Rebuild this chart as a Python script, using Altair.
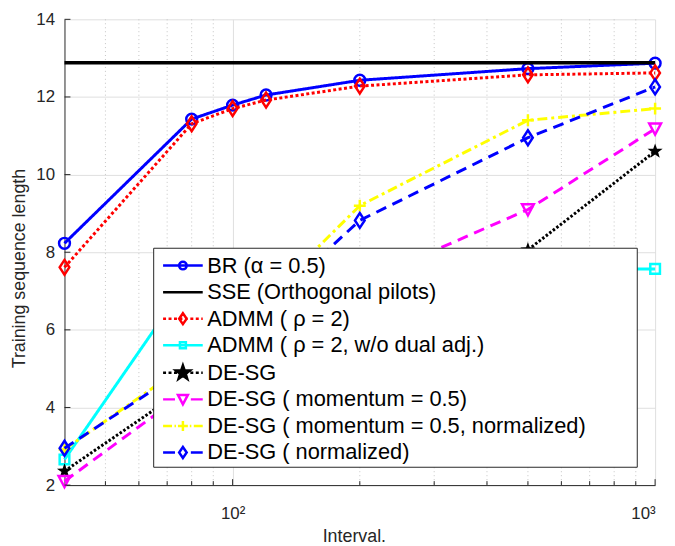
import altair as alt
import pandas as pd

# ---------------- data ----------------
intervals = [40, 80, 100, 120, 200, 500, 1000]
br = [8.23, 11.43, 11.79, 12.05, 12.43, 12.73, 12.87]
sse = [12.88, 12.88, 12.88, 12.88, 12.88, 12.88, 12.88]
admm = [7.61, 11.31, 11.70, 11.92, 12.28, 12.57, 12.62]
admm_nodual = [2.66, 7.40, 7.45, 7.50, 7.52, 7.55, 7.57]
desg = [2.36, 4.60, 5.20, 5.60, 6.60, 8.06, 10.60]
desg_mom = [2.10, 4.50, 5.30, 6.00, 7.20, 9.10, 11.18]
desg_mom_norm = [2.92, 5.20, 5.90, 6.80, 9.20, 11.40, 11.70]
desg_norm = [2.95, 5.10, 5.90, 6.60, 8.82, 10.95, 12.26]

series_names = [
    "BR (α = 0.5)",
    "SSE (Orthogonal pilots)",
    "ADMM ( ρ = 2)",
    "ADMM ( ρ = 2, w/o dual adj.)",
    "DE-SG",
    "DE-SG ( momentum = 0.5)",
    "DE-SG ( momentum = 0.5, normalized)",
    "DE-SG ( normalized)",
]
series_values = [br, sse, admm, admm_nodual, desg, desg_mom, desg_mom_norm, desg_norm]

y_ticks = [2, 4, 6, 8, 10, 12, 14]
x_major = [100, 1000]
x_minor = [50, 60, 70, 80, 90, 200, 300, 400, 500, 600, 700, 800, 900]

rows = []
for name, vals in zip(series_names, series_values):
    for xv, yv in zip(intervals, vals):
        rows.append({"series": name, "interval": xv, "value": yv})
df = pd.DataFrame(rows)

# ---------------- styles ----------------
STAR = ("M0,-1L0.235,-0.324L0.951,-0.309L0.380,0.124L0.588,0.809L0,0.4"
        "L-0.588,0.809L-0.380,0.124L-0.951,-0.309L-0.235,-0.324Z")
DIAMOND = "M0,-1L0.65,0L0,1L-0.65,0Z"
TRI_DOWN = "M-0.85,-0.75L0.85,-0.75L0,0.85Z"
PLUS = "M-1,0L1,0M0,-1L0,1"

# legend symbols (line + marker), unit = 10px at symbolSize 400
L_SOLID = "M-2,0L2,0"
L_DOT = ("M-2,0L-1.7,0M-1.45,0L-1.15,0M-0.9,0L-0.6,0M-0.35,0L-0.05,0"
         "M0.2,0L0.5,0M0.75,0L1.05,0M1.3,0L1.6,0M1.85,0L2,0")
L_DASH = "M-2,0L-0.8,0M0.8,0L2,0"
L_DASHDOT = "M-2,0L-1.1,0M-0.85,0L-0.7,0M0.7,0L0.85,0M1.1,0L2,0"
M_CIRC = "M0.38,0A0.38,0.38,0,1,1,-0.38,0A0.38,0.38,0,1,1,0.38,0Z"
M_DIAM = "M0,-0.55L0.38,0L0,0.55L-0.38,0Z"
M_SQ = "M-0.3,-0.3L0.3,-0.3L0.3,0.3L-0.3,0.3Z"
M_STAR = ("M0,-0.75L0.176,-0.243L0.713,-0.232L0.285,0.093L0.441,0.607L0,0.3"
          "L-0.441,0.607L-0.285,0.093L-0.713,-0.232L-0.176,-0.243Z")
M_TRI = "M-0.5,-0.45L0.5,-0.45L0,0.5Z"
M_PLUS = "M-0.5,0L0.5,0M0,-0.5L0,0.5"

styles = {
    series_names[0]: dict(color="#0000ff", dash=[1, 0], width=3, shape="circle", size=120, filled=False,
                          leg=L_SOLID + M_CIRC, fill="transparent"),
    series_names[1]: dict(color="#000000", dash=[1, 0], width=3.5, shape=None, size=0, filled=False,
                          leg=L_SOLID, fill="transparent"),
    series_names[2]: dict(color="#ff0000", dash=[3, 2.5], width=3, shape=DIAMOND, size=225, filled=False,
                          leg=L_DOT + M_DIAM, fill="transparent"),
    series_names[3]: dict(color="#00ffff", dash=[1, 0], width=3, shape="square", size=95, filled=False,
                          leg=L_SOLID + M_SQ, fill="transparent"),
    series_names[4]: dict(color="#000000", dash=[2.5, 2], width=3, shape=STAR, size=256, filled=True,
                          leg=L_DOT + M_STAR, fill="#000000"),
    series_names[5]: dict(color="#ff00ff", dash=[11, 7], width=3, shape=TRI_DOWN, size=196, filled=False,
                          leg=L_DASH + M_TRI, fill="transparent"),
    series_names[6]: dict(color="#ffff00", dash=[10, 4, 3, 4], width=3, shape=PLUS, size=144, filled=False,
                          leg=L_DASHDOT + M_PLUS, fill="transparent"),
    series_names[7]: dict(color="#0000ff", dash=[11, 7], width=3, shape=DIAMOND, size=225, filled=False,
                          leg=L_DASH + M_DIAM, fill="transparent"),
}

W, H = 596, 470
FONT = "Liberation Sans"
AXC = "#262626"

xs = alt.Scale(type="log", domain=[40, 1000], nice=False)
ys = alt.Scale(domain=[2, 14], nice=False, zero=False)

x_axis = alt.Axis(values=x_major, labelExpr="datum.value == 100 ? '10²' : '10³'",
                  title="Interval.", grid=True, gridColor="#dfdfdf", ticks=False,
                  domainColor=AXC, labelPadding=21, titlePadding=6, titleX=292)
y_axis = alt.Axis(values=y_ticks, title="Training sequence length", grid=True,
                  gridColor="#dfdfdf", ticks=False, domainColor=AXC, labelPadding=10,
                  titlePadding=7, titleY=251)

X = alt.X("interval:Q", scale=xs, axis=x_axis)
Y = alt.Y("value:Q", scale=ys, axis=y_axis)

layers = []

# minor dotted grid
minor_df = pd.DataFrame({"interval": x_minor})
layers.append(alt.Chart(minor_df).mark_rule(color="#c4c4c4", strokeDash=[1, 3], strokeWidth=1)
              .encode(x=X, y=alt.value(0), y2=alt.value(H)))

for name in series_names:
    st = styles[name]
    base = alt.Chart(df).transform_filter(alt.datum.series == name)
    layers.append(base.mark_line(color=st["color"], strokeDash=st["dash"], strokeWidth=st["width"])
                  .encode(x=X, y=Y))
    if st["shape"] is not None:
        layers.append(base.mark_point(shape=st["shape"], size=st["size"], filled=st["filled"],
                                      color=st["color"], strokeWidth=2.5, opacity=1)
                      .encode(x=X, y=Y))

# inward ticks
ytick_df = pd.DataFrame({"value": y_ticks})
layers.append(alt.Chart(ytick_df).mark_rule(color=AXC, strokeWidth=1)
              .encode(y=Y, x=alt.value(0), x2=alt.value(6)))
xmaj_df = pd.DataFrame({"interval": x_major})
layers.append(alt.Chart(xmaj_df).mark_rule(color=AXC, strokeWidth=1)
              .encode(x=X, y=alt.value(H), y2=alt.value(H - 6)))
layers.append(alt.Chart(minor_df).mark_rule(color=AXC, strokeWidth=1)
              .encode(x=X, y=alt.value(H), y2=alt.value(H - 4)))

# legend frame (white box behind the legend entries)
frame_df = pd.DataFrame({"k": [0]})
layers.append(alt.Chart(frame_df).mark_rect(fill="white", stroke=AXC, strokeWidth=1)
              .encode(x=alt.value(90), x2=alt.value(578), y=alt.value(231), y2=alt.value(452)))

# legend layer
LEG = alt.Legend(title=None, orient="none", legendX=92, legendY=231,
                 padding=6, rowPadding=3.8, symbolSize=400,
                 symbolStrokeWidth=2.5, symbolOffset=10, labelOffset=13,
                 labelFont=FONT, labelFontSize=22, labelColor="black", labelLimit=1000,
                 symbolOpacity=1)
leg_df = pd.DataFrame({"series": series_names})
layers.append(alt.Chart(leg_df).transform_filter("false")
              .mark_point(filled=False, strokeWidth=2.5, opacity=1)
              .encode(
                  shape=alt.Shape("series:N", scale=alt.Scale(domain=series_names,
                                  range=[styles[n]["leg"] for n in series_names]), legend=LEG),
                  stroke=alt.Stroke("series:N", scale=alt.Scale(domain=series_names,
                                    range=[styles[n]["color"] for n in series_names]), legend=LEG),
                  fill=alt.Fill("series:N", scale=alt.Scale(domain=series_names,
                                range=[styles[n]["fill"] for n in series_names]), legend=LEG),
              ))

chart = (alt.layer(*layers)
         .properties(width=W, height=H, autosize=alt.AutoSizeParams(type="none"),
                     padding={"left": 57, "top": 9, "right": 12, "bottom": 58})
         .configure_view(stroke=None)
         .configure_axis(labelFont=FONT, labelFontSize=17, labelColor=AXC,
                         titleFont=FONT, titleFontSize=18, titleFontWeight="normal",
                         titleColor=AXC, domainWidth=1, gridWidth=1))

chart.save("out.html", embed_options={"renderer": "svg", "actions": False})
